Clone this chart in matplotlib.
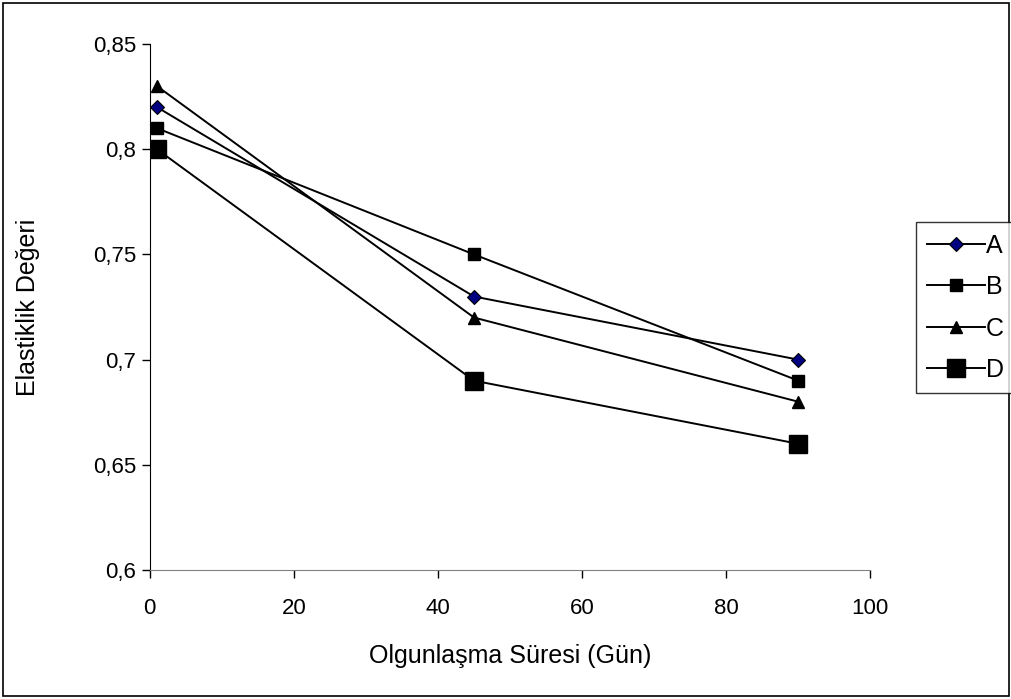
import matplotlib
matplotlib.use("Agg")
import matplotlib.pyplot as plt
from matplotlib.patches import Rectangle

plt.rcParams['font.family'] = ['Liberation Sans', 'DejaVu Sans']

gun = [1, 45, 90]
seri_a = [0.82, 0.73, 0.70]
seri_b = [0.81, 0.75, 0.69]
seri_c = [0.83, 0.72, 0.68]
seri_d = [0.80, 0.69, 0.66]
x_ticks = [0, 20, 40, 60, 80, 100]
y_ticks = [0.6, 0.65, 0.7, 0.75, 0.8, 0.85]
y_labels = ['0,6', '0,65', '0,7', '0,75', '0,8', '0,85']

fig = plt.figure(figsize=(10.12, 6.99), dpi=100)
ax = fig.add_axes([0.148, 0.1845, 0.712, 0.7525])

ax.plot(gun, seri_a, color='black', lw=1.4, marker='D', ms=7.5,
        mfc='#000080', mec='black', mew=0.8, label='A')
ax.plot(gun, seri_b, color='black', lw=1.4, marker='s', ms=8,
        mfc='black', mec='black', label='B')
ax.plot(gun, seri_c, color='black', lw=1.4, marker='^', ms=9,
        mfc='black', mec='black', label='C')
ax.plot(gun, seri_d, color='black', lw=1.4, marker='s', ms=12.5,
        mfc='black', mec='black', label='D')

ax.set_xlim(0, 100)
ax.set_ylim(0.6, 0.85)
ax.set_xticks(x_ticks)
ax.set_xticklabels([str(t) for t in x_ticks])
ax.set_yticks(y_ticks)
ax.set_yticklabels(y_labels)
ax.tick_params(labelsize=16, direction='out', length=6, width=1)
ax.tick_params(axis='x', pad=14)
ax.tick_params(axis='y', pad=4)
ax.spines['top'].set_visible(False)
ax.spines['right'].set_visible(False)
ax.spines['bottom'].set_color('#808080')
ax.spines['left'].set_color('black')

ax.set_xlabel('Olgunlaşma Süresi (Gün)', fontsize=18, labelpad=18)
ax.set_ylabel('Elastiklik Değeri', fontsize=18, labelpad=38)

leg = fig.legend(loc='upper left', bbox_to_anchor=(0.905, 0.682),
                 fontsize=18, frameon=True, fancybox=False, edgecolor='black',
                 handlelength=2.3, handletextpad=0.05, labelspacing=0.7,
                 borderpad=0.45, borderaxespad=0)
leg.get_frame().set_linewidth(1)

fig.add_artist(Rectangle((0.003, 0.004), 0.994, 0.992, transform=fig.transFigure,
                         fill=False, edgecolor='black', lw=1.2))

fig.savefig('out.png', dpi=100)
